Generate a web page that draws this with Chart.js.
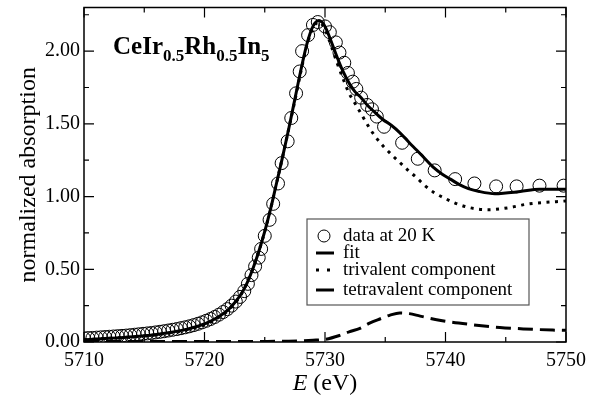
<!DOCTYPE html>
<html>
<head>
<meta charset="utf-8">
<title>CeIr0.5Rh0.5In5 absorption</title>
<script src="https://cdn.jsdelivr.net/npm/chart.js@4.4.1/dist/chart.umd.min.js"></script>
<style>
  html, body { margin: 0; padding: 0; background: #fff; }
  #wrap { width: 605px; height: 403px; }
</style>
</head>
<body>
<div id="wrap"><canvas id="xasChart" width="605" height="403"></canvas></div>
<script>
// measured points (circles)
const dataE = [
  5710.0, 5710.35, 5710.7, 5711.05, 5711.4, 5711.75, 5712.1, 5712.45, 5712.8, 5713.15,
  5713.5, 5713.85, 5714.2, 5714.55, 5714.9, 5715.25, 5715.6, 5715.95, 5716.3, 5716.65,
  5717.0, 5717.35, 5717.7, 5718.05, 5718.4, 5718.75, 5719.1, 5719.45, 5719.8, 5720.15,
  5720.5, 5720.85, 5721.2, 5721.55, 5721.9, 5722.25, 5722.6, 5722.95, 5723.3, 5723.6,
  5723.9, 5724.2, 5724.5, 5724.7, 5725.0, 5725.4, 5725.7, 5726.1, 5726.4, 5726.9,
  5727.2, 5727.6, 5727.9, 5728.1, 5728.6, 5729.0, 5729.4, 5730.0, 5730.4, 5730.9,
  5731.2, 5731.6, 5731.9, 5732.3, 5732.6, 5733.0, 5733.5, 5733.9, 5734.3, 5734.9,
  5736.4, 5737.7, 5739.1, 5740.8, 5742.4, 5744.2, 5745.9, 5747.8, 5749.8
];
const dataY = [
  0.025, 0.027, 0.028, 0.030, 0.032, 0.034, 0.036, 0.038, 0.040, 0.042,
  0.044, 0.047, 0.050, 0.053, 0.056, 0.059, 0.062, 0.066, 0.070, 0.074,
  0.079, 0.084, 0.089, 0.095, 0.101, 0.108, 0.116, 0.125, 0.135, 0.146,
  0.158, 0.172, 0.188, 0.206, 0.226, 0.250, 0.278, 0.310, 0.350, 0.40,
  0.46, 0.52, 0.58, 0.64, 0.73, 0.84, 0.95, 1.09, 1.23, 1.38,
  1.54, 1.71, 1.86, 2.00, 2.11, 2.18, 2.20, 2.17, 2.13, 2.06,
  1.99, 1.92, 1.85, 1.79, 1.74, 1.68, 1.63, 1.60, 1.55, 1.48,
  1.37, 1.26, 1.18, 1.12, 1.09, 1.07, 1.07, 1.075, 1.075
];

// fit (solid)
const fitE = [
  5710, 5711, 5712, 5713, 5714, 5715, 5716, 5717, 5718, 5719,
  5720, 5721, 5722, 5722.5, 5723, 5723.5, 5724, 5724.5, 5725, 5725.5,
  5726, 5726.5, 5727, 5727.5, 5728, 5728.5, 5729, 5729.5, 5730, 5730.5,
  5731, 5731.5, 5732, 5732.5, 5733, 5733.5, 5734, 5734.8, 5735.5, 5736.2,
  5737, 5737.6, 5738.3, 5739, 5739.7, 5740.4, 5741.2, 5741.9, 5742.8, 5744.1,
  5745, 5746.2, 5747.8, 5749, 5750
];
const fitY = [
  0.015, 0.02, 0.025, 0.03, 0.036, 0.043, 0.052, 0.063, 0.078, 0.098,
  0.125, 0.165, 0.225, 0.27, 0.325, 0.40, 0.50, 0.62, 0.76, 0.92,
  1.10, 1.28, 1.47, 1.67, 1.87, 2.05, 2.17, 2.21, 2.17, 2.07,
  1.96, 1.86, 1.78, 1.72, 1.68, 1.63, 1.59, 1.53, 1.49, 1.44,
  1.37, 1.32, 1.26, 1.20, 1.155, 1.12, 1.08, 1.055, 1.035, 1.02,
  1.025, 1.035, 1.05, 1.05, 1.05
];

// trivalent component (dotted)
const triE = [
  5710, 5712, 5714, 5716, 5718, 5719, 5720, 5721, 5722, 5723,
  5723.5, 5724, 5724.5, 5725, 5725.5, 5726, 5726.5, 5727, 5727.5, 5728,
  5728.5, 5729, 5729.5, 5730, 5730.5, 5731, 5731.5, 5732, 5732.5, 5733.2,
  5733.7, 5734.2, 5734.8, 5735.5, 5736.2, 5736.9, 5737.6, 5738.3, 5739, 5739.9,
  5740.8, 5741.7, 5742.6, 5743.6, 5744.5, 5745.5, 5746.4, 5747.4, 5748.3, 5749.2,
  5750
];
const triY = [
  0.015, 0.025, 0.035, 0.05, 0.075, 0.095, 0.12, 0.16, 0.22, 0.32,
  0.40, 0.50, 0.62, 0.76, 0.92, 1.10, 1.28, 1.47, 1.66, 1.86,
  2.04, 2.16, 2.20, 2.15, 2.04, 1.92, 1.81, 1.71, 1.64, 1.54,
  1.47, 1.41, 1.35, 1.29, 1.235, 1.18, 1.13, 1.075, 1.03, 0.99,
  0.955, 0.93, 0.915, 0.91, 0.915, 0.927, 0.943, 0.954, 0.96, 0.965,
  0.97
];

// tetravalent component (dashed)
const tetE = [
  5710, 5715, 5720, 5725, 5727, 5729, 5730, 5731.2, 5732, 5732.9,
  5733.7, 5734.6, 5735.4, 5736.2, 5737, 5737.9, 5739.5, 5741.8, 5744.5, 5746.5,
  5748.9, 5750
];
const tetY = [
  0.003, 0.003, 0.003, 0.004, 0.006, 0.012, 0.018, 0.045, 0.07, 0.094,
  0.13, 0.16, 0.185, 0.20, 0.195, 0.178, 0.15, 0.123, 0.10, 0.09,
  0.082, 0.08
];

const xTicks = [5710, 5720, 5730, 5740, 5750];
const xMinorTicks = [5715, 5725, 5735, 5745];
const yTicks = [0, 0.5, 1.0, 1.5, 2.0];
const yMinorTicks = [0.25, 0.75, 1.25, 1.75, 2.25];

const legendLabels = ['data at 20 K', 'fit', 'trivalent component', 'tetravalent component'];

const SERIF = '"Liberation Serif", "DejaVu Serif", serif';

function toPoints(xs, ys) {
  return xs.map((x, i) => ({ x: x, y: ys[i] }));
}

// frame, inward ticks, compound label, italic axis title and boxed legend
const decorPlugin = {
  id: 'decor',
  afterDraw(chart) {
    const ctx = chart.ctx;
    const area = chart.chartArea;
    const xs = chart.scales.x;
    const ys = chart.scales.y;

    ctx.save();
    ctx.strokeStyle = '#000';
    ctx.lineWidth = 1.5;
    ctx.strokeRect(area.left, area.top, area.right - area.left, area.bottom - area.top);

    ctx.lineWidth = 1.2;
    const tick = (vals, len, horiz) => {
      vals.forEach(v => {
        ctx.beginPath();
        if (horiz) {
          const px = xs.getPixelForValue(v);
          ctx.moveTo(px, area.bottom); ctx.lineTo(px, area.bottom - len);
          ctx.moveTo(px, area.top); ctx.lineTo(px, area.top + len);
        } else {
          const py = ys.getPixelForValue(v);
          ctx.moveTo(area.left, py); ctx.lineTo(area.left + len, py);
          ctx.moveTo(area.right, py); ctx.lineTo(area.right - len, py);
        }
        ctx.stroke();
      });
    };
    tick(xTicks, 10, true);
    tick(xMinorTicks, 5, true);
    tick(yTicks, 10, false);
    tick(yMinorTicks, 5, false);

    // compound name
    ctx.fillStyle = '#000';
    ctx.textBaseline = 'alphabetic';
    ctx.textAlign = 'left';
    const big = 'bold 25px ' + SERIF;
    const small = 'bold 17px ' + SERIF;
    const parts = [['CeIr', big, 0], ['0.5', small, 7], ['Rh', big, 0], ['0.5', small, 7], ['In', big, 0], ['5', small, 7]];
    let tx = 113;
    const base = 54;
    parts.forEach(p => {
      ctx.font = p[1];
      ctx.fillText(p[0], tx, base + p[2]);
      tx += ctx.measureText(p[0]).width;
    });

    // x axis title: italic E + (eV)
    ctx.textBaseline = 'middle';
    ctx.font = 'italic 24px ' + SERIF;
    const eW = ctx.measureText('E').width;
    ctx.font = '24px ' + SERIF;
    const restW = ctx.measureText(' (eV)').width;
    const cx = (area.left + area.right) / 2;
    let sx = cx - (eW + restW) / 2;
    ctx.font = 'italic 24px ' + SERIF;
    ctx.fillText('E', sx, 384);
    ctx.font = '24px ' + SERIF;
    ctx.fillText(' (eV)', sx + eW, 384);

    // legend
    const box = { x: 307, y: 219, w: 222, h: 86 };
    ctx.fillStyle = '#fff';
    ctx.fillRect(box.x, box.y, box.w, box.h);
    ctx.strokeStyle = '#555';
    ctx.lineWidth = 1.2;
    ctx.strokeRect(box.x, box.y, box.w, box.h);

    const rows = [236, 253, 270, 290];
    ctx.fillStyle = '#000';
    ctx.strokeStyle = '#000';
    ctx.font = '19px ' + SERIF;
    ctx.textBaseline = 'middle';
    legendLabels.forEach((label, i) => {
      const y = rows[i];
      const ds = chart.data.datasets[i];
      ctx.save();
      if (i === 0) {
        ctx.lineWidth = 1;
        ctx.beginPath();
        ctx.arc(324, y, 6, 0, Math.PI * 2);
        ctx.stroke();
      } else if (i === 2) {
        // two dots, as in the plot's own key
        ctx.fillRect(316, y - 1.5, 3, 3);
        ctx.fillRect(327, y - 1.5, 3, 3);
      } else {
        ctx.lineWidth = ds.borderWidth;
        ctx.beginPath();
        ctx.moveTo(316, y);
        ctx.lineTo(334, y);
        ctx.stroke();
      }
      ctx.restore();
      ctx.fillText(label, 343, y);
    });
    ctx.restore();
  }
};

const ctx = document.getElementById('xasChart').getContext('2d');
const myChart = new Chart(ctx, {
  type: 'scatter',
  data: {
    datasets: [
      {
        label: legendLabels[0],
        data: toPoints(dataE, dataY),
        showLine: false,
        pointStyle: 'circle',
        pointRadius: 6.5,
        pointBorderWidth: 1,
        pointBorderColor: '#000',
        pointBackgroundColor: 'rgba(0,0,0,0)',
        order: 4
      },
      {
        label: legendLabels[1],
        data: toPoints(fitE, fitY),
        showLine: true,
        borderColor: '#000',
        borderWidth: 3,
        pointRadius: 0,
        cubicInterpolationMode: 'monotone',
        order: 1
      },
      {
        label: legendLabels[2],
        data: toPoints(triE, triY),
        showLine: true,
        borderColor: '#000',
        borderWidth: 3,
        borderDash: [3, 5.5],
        pointRadius: 0,
        cubicInterpolationMode: 'monotone',
        order: 2
      },
      {
        label: legendLabels[3],
        data: toPoints(tetE, tetY),
        showLine: true,
        borderColor: '#000',
        borderWidth: 3,
        borderDash: [15, 7],
        pointRadius: 0,
        cubicInterpolationMode: 'monotone',
        order: 3
      }
    ]
  },
  options: {
    responsive: false,
    animation: false,
    devicePixelRatio: 1,
    layout: { padding: { top: 6, right: 39, left: 0, bottom: 0 } },
    plugins: {
      legend: { display: false },
      tooltip: { enabled: false }
    },
    scales: {
      x: {
        type: 'linear',
        min: 5710,
        max: 5750,
        grid: { display: false, drawTicks: false },
        border: { display: false },
        afterBuildTicks: scale => { scale.ticks = xTicks.map(v => ({ value: v })); },
        afterFit: scale => { scale.height = 61; scale.paddingLeft = 0; scale.paddingRight = 0; },
        ticks: {
          padding: 7,
          color: '#000',
          font: { family: SERIF, size: 20 },
          callback: v => String(v)
        }
      },
      y: {
        type: 'linear',
        min: 0,
        max: 2.3,
        grid: { display: false, drawTicks: false },
        border: { display: false },
        afterBuildTicks: scale => { scale.ticks = yTicks.map(v => ({ value: v })); },
        afterFit: scale => { scale.width = 84; scale.paddingTop = 0; scale.paddingBottom = 0; },
        title: {
          display: true,
          text: 'normalized absorption',
          color: '#000',
          font: { family: SERIF, size: 24 },
          padding: { top: 14, bottom: 0 }
        },
        ticks: {
          padding: 4,
          color: '#000',
          font: { family: SERIF, size: 20 },
          callback: v => Number(v).toFixed(2)
        }
      }
    }
  },
  plugins: [decorPlugin]
});
</script>
</body>
</html>
